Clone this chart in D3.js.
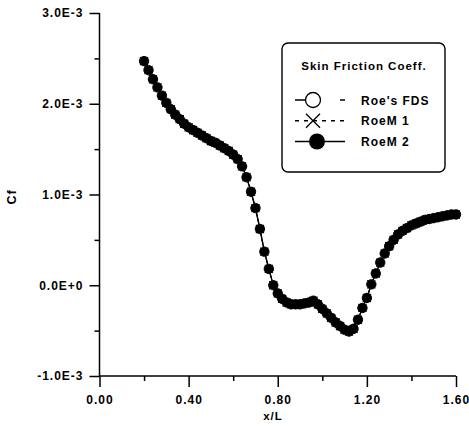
<!DOCTYPE html>
<html>
<head>
<meta charset="utf-8">
<script src="https://cdn.jsdelivr.net/npm/d3@7/dist/d3.min.js"></script>
<style>
	body { margin: 0; background: #fff; }
	svg text { font-family: "Liberation Sans", Arial, sans-serif; font-weight: bold; fill: #000; letter-spacing: 1px; }
	.axis path, .axis line { stroke: #000; stroke-width: 1.5; }
</style>
</head>
<body>
<div id="chart"></div>
<script>
// x/L positions of the computed points
var xL = [0.20,0.22,0.24,0.26,0.28,0.30,0.32,0.34,0.36,0.38,
	0.40,0.42,0.44,0.46,0.48,0.50,0.52,0.54,0.56,0.58,
	0.60,0.62,0.64,0.66,0.68,0.70,0.72,0.74,0.76,0.78,
	0.80,0.82,0.84,0.86,0.88,0.90,0.92,0.94,0.96,0.98,
	1.00,1.02,1.04,1.06,1.08,1.10,1.12,1.14,1.16,1.18,
	1.20,1.22,1.24,1.26,1.28,1.30,1.32,1.34,1.36,1.38,
	1.40,1.42,1.44,1.46,1.48,1.50,1.52,1.54,1.56,1.58,1.60]

// Cf in units of 1E-3 (the three schemes overlap in the picture)
var cfRoeM2 = [2.47,2.37,2.27,2.18,2.09,2.01,1.94,1.88,1.83,1.78,
	1.74,1.71,1.68,1.65,1.62,1.59,1.57,1.54,1.51,1.48,
	1.44,1.39,1.31,1.19,1.03,0.85,0.62,0.37,0.18,0.00,
	-0.09,-0.15,-0.19,-0.21,-0.21,-0.21,-0.20,-0.19,-0.17,-0.21,
	-0.26,-0.31,-0.36,-0.41,-0.45,-0.49,-0.51,-0.48,-0.38,-0.25,
	-0.14,0.01,0.13,0.25,0.35,0.43,0.50,0.56,0.60,0.63,
	0.66,0.68,0.70,0.72,0.73,0.74,0.75,0.76,0.77,0.78,0.78]
var cfRoeFDS = cfRoeM2
var cfRoeM1 = cfRoeM2

var seriesNames = ["Roe's FDS", 'RoeM 1', 'RoeM 2']
var xTicks = [0, 0.4, 0.8, 1.2, 1.6]
var xTickLabels = ['0.00', '0.40', '0.80', '1.20', '1.60']
var xMinor = [0.2, 0.6, 1.0, 1.4]
var yTicks = [-1, 0, 1, 2, 3]
var yTickLabels = ['-1.0E-3', '0.0E+0', '1.0E-3', '2.0E-3', '3.0E-3']
var yMinor = [-0.5, 0.5, 1.5, 2.5]

var width = 469, height = 426

var svg = d3.select('#chart').append('svg')
	.attr('width', width)
	.attr('height', height)

var xScale = d3.scaleLinear().domain([0, 1.6]).range([99.5, 456])
var yScale = d3.scaleLinear().domain([-1, 3]).range([376, 13])

// axes
svg.append('g').attr('class', 'axis')
	.attr('transform', 'translate(99.5,0)')
	.call(d3.axisLeft(yScale).tickValues(yTicks).tickSize(10).tickPadding(6)
		.tickFormat(function(d, i) { return yTickLabels[i] }))
	.call(function(g) {
		g.select('.domain').attr('d', 'M0,13V376')
		g.selectAll('text').style('font-size', '12px')
	})

svg.append('g').attr('class', 'axis')
	.attr('transform', 'translate(99.5,0)')
	.call(d3.axisLeft(yScale).tickValues(yMinor).tickSize(5).tickFormat(''))
	.call(function(g) { g.select('.domain').remove() })

svg.append('g').attr('class', 'axis')
	.attr('transform', 'translate(0,376)')
	.call(d3.axisBottom(xScale).tickValues(xTicks).tickSize(11).tickPadding(8)
		.tickFormat(function(d, i) { return xTickLabels[i] }))
	.call(function(g) {
		g.select('.domain').attr('d', 'M99.5,0H456')
		g.selectAll('text').style('font-size', '12px')
	})

svg.append('g').attr('class', 'axis')
	.attr('transform', 'translate(0,376)')
	.call(d3.axisBottom(xScale).tickValues(xMinor).tickSize(5).tickFormat(''))
	.call(function(g) { g.select('.domain').remove() })

svg.append('text')
	.attr('x', 273).attr('y', 420)
	.attr('text-anchor', 'middle')
	.style('font-size', '11.5px')
	.text('x/L')

svg.append('text')
	.attr('transform', 'translate(16,197) rotate(-90)')
	.attr('text-anchor', 'middle')
	.style('font-size', '12.5px')
	.text('Cf')

// curves
function points(vals) {
	return xL.map(function(x, i) { return [x, vals[i]] })
}

var line = d3.line()
	.x(function(d) { return xScale(d[0]) })
	.y(function(d) { return yScale(d[1]) })

var plot = svg.append('g')

plot.append('path').datum(points(cfRoeFDS))
	.attr('d', line).attr('fill', 'none').attr('stroke', '#000').attr('stroke-width', 1)
plot.append('path').datum(points(cfRoeM1))
	.attr('d', line).attr('fill', 'none').attr('stroke', '#000').attr('stroke-width', 1)
	.attr('stroke-dasharray', '4,3')
plot.append('path').datum(points(cfRoeM2))
	.attr('d', line).attr('fill', 'none').attr('stroke', '#000').attr('stroke-width', 1.4)

plot.selectAll('circle.fds')
	.data(points(cfRoeFDS))
	.enter().append('circle')
	.attr('class', 'fds')
	.attr('cx', function(d) { return xScale(d[0]) })
	.attr('cy', function(d) { return yScale(d[1]) })
	.attr('r', 4.7)
	.attr('fill', '#fff').attr('stroke', '#000').attr('stroke-width', 1)

plot.selectAll('path.m1')
	.data(points(cfRoeM1))
	.enter().append('path')
	.attr('class', 'm1')
	.attr('transform', function(d) { return 'translate(' + xScale(d[0]) + ',' + yScale(d[1]) + ')' })
	.attr('d', 'M-4,-4L4,4M-4,4L4,-4')
	.attr('stroke', '#000').attr('stroke-width', 1.2)

plot.selectAll('circle.m2')
	.data(points(cfRoeM2))
	.enter().append('circle')
	.attr('class', 'm2')
	.attr('cx', function(d) { return xScale(d[0]) })
	.attr('cy', function(d) { return yScale(d[1]) })
	.attr('r', 4.7)
	.attr('fill', '#000')

// legend
var legend = svg.append('g')

legend.append('rect')
	.attr('x', 282).attr('y', 43)
	.attr('width', 163).attr('height', 129)
	.attr('rx', 6)
	.attr('fill', '#fff').attr('stroke', '#000').attr('stroke-width', 1.4)

legend.append('text')
	.attr('x', 364).attr('y', 69.5)
	.attr('text-anchor', 'middle')
	.style('font-size', '11.5px')
	.text('Skin Friction Coeff.')

var rowY = d3.scalePoint().domain(seriesNames).range([100, 141.5])

var rows = legend.selectAll('g.row')
	.data(seriesNames)
	.enter().append('g')
	.attr('class', 'row')
	.attr('transform', function(d) { return 'translate(0,' + rowY(d) + ')' })

rows.append('line')
	.attr('x1', 295).attr('x2', 345)
	.attr('stroke', '#000').attr('stroke-width', 1.3)
	.attr('stroke-dasharray', function(d, i) { return i === 0 ? '10,35,5,10' : (i === 1 ? '4,5' : null) })

rows.filter(function(d, i) { return i === 0 }).append('circle')
	.attr('cx', 313).attr('r', 7.5)
	.attr('fill', '#fff').attr('stroke', '#000').attr('stroke-width', 1.3)

rows.filter(function(d, i) { return i === 1 }).append('path')
	.attr('transform', 'translate(313,0)')
	.attr('d', 'M-7,-7L7,7M-7,7L7,-7')
	.attr('stroke', '#000').attr('stroke-width', 1.3)

rows.filter(function(d, i) { return i === 2 }).append('circle')
	.attr('cx', 317).attr('r', 8)
	.attr('fill', '#000')

rows.append('text')
	.attr('x', 361).attr('y', 4.5)
	.style('font-size', '12px')
	.text(function(d) { return d })
</script>
</body>
</html>
